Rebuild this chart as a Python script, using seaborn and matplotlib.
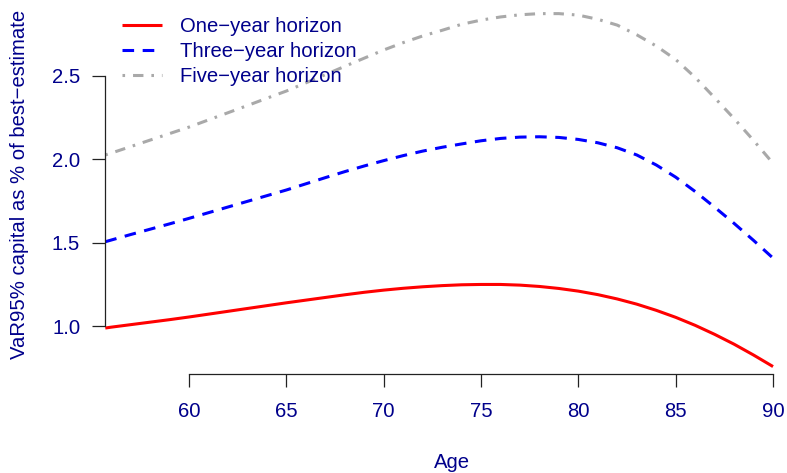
import numpy as np
import pandas as pd
import matplotlib
matplotlib.use("Agg")
import matplotlib.pyplot as plt
import seaborn as sns

# Age grid (first point sits on the left edge of the plotting region)
ages = [55.7] + list(range(56, 91))

one_year = [0.988, 0.993, 1.008, 1.023, 1.038, 1.054, 1.071, 1.088, 1.105, 1.122,
            1.139, 1.155, 1.171, 1.187, 1.202, 1.215, 1.226, 1.235, 1.242, 1.247,
            1.249, 1.249, 1.245, 1.237, 1.225, 1.209, 1.188, 1.162, 1.131, 1.094,
            1.052, 1.004, 0.950, 0.891, 0.826, 0.757]

three_year = [1.505, 1.515, 1.548, 1.580, 1.612, 1.645, 1.679, 1.713, 1.747, 1.781,
              1.815, 1.852, 1.889, 1.925, 1.959, 1.991, 2.021, 2.048, 2.071, 2.091,
              2.110, 2.124, 2.132, 2.134, 2.130, 2.118, 2.098, 2.068, 2.025, 1.965,
              1.892, 1.806, 1.712, 1.615, 1.513, 1.407]

five_year = [2.025, 2.036, 2.075, 2.114, 2.153, 2.192, 2.235, 2.278, 2.321, 2.365,
             2.408, 2.457, 2.506, 2.556, 2.605, 2.654, 2.698, 2.738, 2.772, 2.808,
             2.833, 2.852, 2.865, 2.872, 2.872, 2.863, 2.838, 2.803, 2.745, 2.678,
             2.597, 2.490, 2.368, 2.243, 2.112, 1.975]

series_names = ["One\u2212year horizon", "Three\u2212year horizon", "Five\u2212year horizon"]
y_ticks = [1.0, 1.5, 2.0, 2.5]
y_tick_labels = ["1.0", "1.5", "2.0", "2.5"]
x_ticks = [60, 65, 70, 75, 80, 85, 90]
x_tick_labels = ["60", "65", "70", "75", "80", "85", "90"]

df = pd.DataFrame({"age": ages, "one": one_year, "three": three_year, "five": five_year})

sns.set_style("ticks")
plt.rcParams["font.family"] = ["Liberation Sans", "DejaVu Sans"]
text_col = "#00008B"
fs = 14.6

W, H = 787, 473
fig = plt.figure(figsize=(W / 100, H / 100), dpi=100)
ax = fig.add_axes([105 / W, 99 / H, 669 / W, 374 / H])

lw = 2.2
sns.lineplot(data=df, x="age", y="one", ax=ax, color="#FF0000", lw=lw,
             label=series_names[0], clip_on=False)
sns.lineplot(data=df, x="age", y="three", ax=ax, color="#0000FF", lw=lw,
             linestyle=(0, (3.8, 2.8)), label=series_names[1], clip_on=False)
sns.lineplot(data=df, x="age", y="five", ax=ax, color="#A9A9A9", lw=lw,
             linestyle=(0, (0.85, 2.6, 3.4, 2.6)), label=series_names[2], clip_on=False)
for ln in ax.lines:
    ln.set_dash_capstyle("butt")
    ln.set_solid_capstyle("butt")

ax.set_xlim(55.685, 90.05)
ax.set_ylim(0.7124, 2.9536)

ax.set_xticks(x_ticks, x_tick_labels)
ax.set_yticks(y_ticks, y_tick_labels)
ax.tick_params(axis="both", which="major", direction="out", length=9.4, width=0.9,
               color="#222222", labelsize=fs, labelcolor=text_col,
               bottom=True, left=True, top=False, right=False)
ax.tick_params(axis="x", pad=11)
ax.tick_params(axis="y", pad=8.5)

for s in ["top", "right"]:
    ax.spines[s].set_visible(False)
ax.spines["left"].set_bounds(1.0, 2.5)
ax.spines["bottom"].set_bounds(60, 90)
for s in ["left", "bottom"]:
    ax.spines[s].set_linewidth(0.9)
    ax.spines[s].set_color("#222222")

ax.set_xlabel("Age", fontsize=fs, color=text_col)
ax.set_ylabel("VaR95% capital as % of best\u2212estimate", fontsize=fs, color=text_col)
ax.xaxis.set_label_coords(452 / W, 1 - 462 / H, transform=fig.transFigure)
ax.yaxis.set_label_coords(20 / W, 1 - 184 / H, transform=fig.transFigure)
ax.xaxis.label.set_va("center")
ax.yaxis.label.set_va("center")

leg = ax.legend(loc="upper left", bbox_to_anchor=(122 / W, 1 - 17 / H),
                bbox_transform=fig.transFigure, frameon=False, fontsize=fs,
                handlelength=1.97, handletextpad=0.88, labelspacing=0.3,
                borderpad=0, borderaxespad=0)
for t in leg.get_texts():
    t.set_color(text_col)

fig.savefig("out.png", dpi=100)
